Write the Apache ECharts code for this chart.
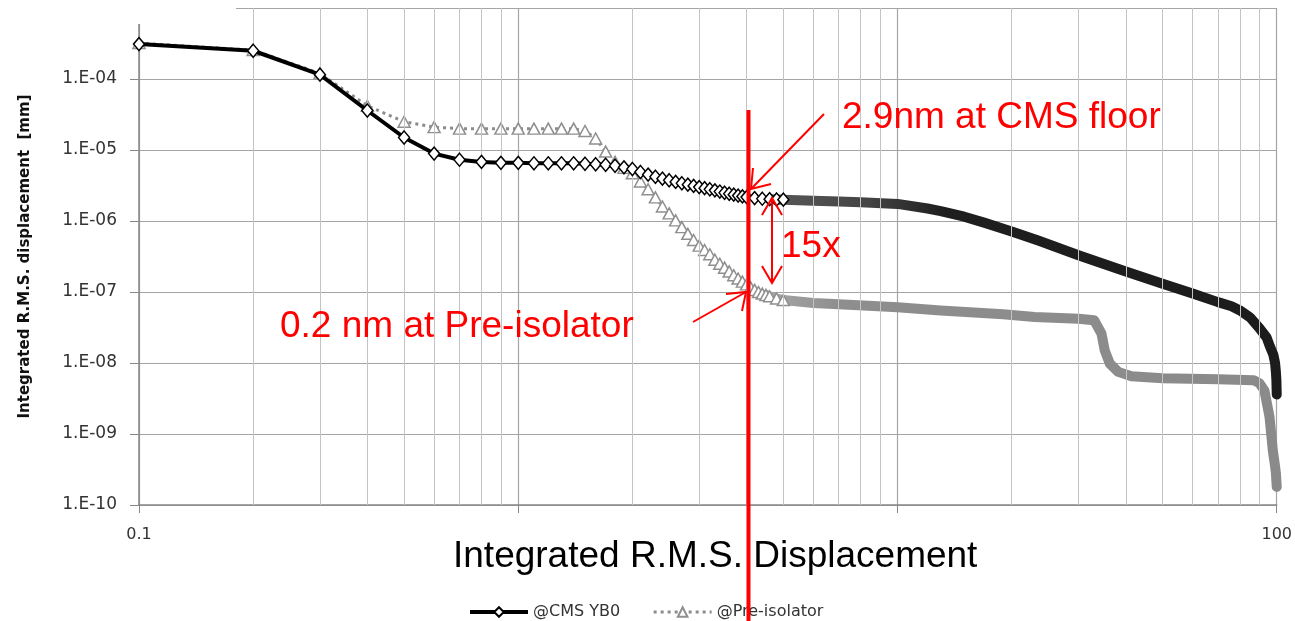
<!DOCTYPE html>
<html>
<head>
<meta charset="UTF-8">
<title>Integrated R.M.S. Displacement</title>
<style>
    html, body { margin: 0; padding: 0; background: #fff; }
    #main { width: 1295px; height: 621px; }
</style>
<script src="https://cdn.jsdelivr.net/npm/echarts@6/dist/echarts.min.js"></script>
</head>
<body>
<div id="main"></div>
<script>
    // frequency [Hz] and integrated displacement [mm]
    var freqCms = [0.1, 0.2, 0.3, 0.4, 0.5, 0.6, 0.7, 0.8, 0.9, 1.0,
        1.1, 1.2, 1.3, 1.4, 1.5, 1.6, 1.7, 1.8, 1.9, 2.0,
        2.1, 2.2, 2.3, 2.4, 2.5, 2.6, 2.7, 2.8, 2.9, 3.0,
        3.1, 3.2, 3.3, 3.4, 3.5, 3.6, 3.7, 3.8, 3.9, 4.0,
        4.2, 4.4, 4.6, 4.8, 5.0,
        6, 7, 8, 10, 12, 13, 15, 17, 20, 23.5,
        30, 40, 50, 60, 70, 76, 80, 85, 90, 94, 96, 98, 99, 99.5, 99.8, 100];
    var cmsYB0 = [3.1e-4, 2.5e-4, 1.15e-4, 3.6e-5, 1.5e-5, 8.9e-6, 7.3e-6, 6.8e-6, 6.6e-6, 6.6e-6,
        6.5e-6, 6.5e-6, 6.5e-6, 6.5e-6, 6.4e-6, 6.3e-6, 6.2e-6, 6.0e-6, 5.7e-6, 5.4e-6,
        4.9e-6, 4.5e-6, 4.2e-6, 3.95e-6, 3.75e-6, 3.55e-6, 3.4e-6, 3.25e-6, 3.12e-6, 3.0e-6,
        2.9e-6, 2.8e-6, 2.7e-6, 2.6e-6, 2.5e-6, 2.42e-6, 2.35e-6, 2.28e-6, 2.22e-6, 2.17e-6,
        2.1e-6, 2.06e-6, 2.03e-6, 2.01e-6, 2.0e-6,
        1.93e-6, 1.88e-6, 1.83e-6, 1.74e-6, 1.5e-6, 1.38e-6, 1.15e-6, 9.4e-7, 7.1e-7, 5.3e-7,
        3.3e-7, 1.95e-7, 1.31e-7, 9.5e-8, 7.2e-8, 6.3e-8, 5.5e-8, 4.4e-8, 3.1e-8, 2.3e-8,
        1.7e-8, 1.3e-8, 1.0e-8, 7.4e-9, 5.7e-9, 3.6e-9];

    var freqPre = [0.1, 0.2, 0.3, 0.4, 0.5, 0.6, 0.7, 0.8, 0.9, 1.0,
        1.1, 1.2, 1.3, 1.4, 1.5, 1.6, 1.7, 1.8, 1.9, 2.0,
        2.1, 2.2, 2.3, 2.4, 2.5, 2.6, 2.7, 2.8, 2.9, 3.0,
        3.1, 3.2, 3.3, 3.4, 3.5, 3.6, 3.7, 3.8, 3.9, 4.0,
        4.1, 4.2, 4.3, 4.4, 4.5, 4.6, 4.8, 5.0,
        6, 7, 10, 13, 19, 23, 30, 33, 34.5, 35.2, 36.3, 38.2, 41.4,
        50, 70, 87, 90, 92.8, 95.7, 97.6, 99, 99.5, 100];
    var preIso = [3.2e-4, 2.55e-4, 1.2e-4, 4.2e-5, 2.5e-5, 2.1e-5, 2.0e-5, 2.0e-5, 2.0e-5, 2.0e-5,
        2.0e-5, 2.0e-5, 2.0e-5, 2.0e-5, 1.85e-5, 1.45e-5, 9.5e-6, 6.8e-6, 5.6e-6, 4.7e-6,
        3.6e-6, 2.8e-6, 2.15e-6, 1.6e-6, 1.28e-6, 1.02e-6, 8.2e-7, 6.6e-7, 5.4e-7, 4.5e-7,
        3.9e-7, 3.4e-7, 2.85e-7, 2.5e-7, 2.2e-7, 1.95e-7, 1.72e-7, 1.55e-7, 1.4e-7, 1.28e-7,
        1.16e-7, 1.07e-7, 1.0e-7, 9.5e-8, 9.1e-8, 8.7e-8, 8.1e-8, 7.7e-8,
        7.0e-8, 6.7e-8, 6.1e-8, 5.5e-8, 4.85e-8, 4.45e-8, 4.2e-8, 4.0e-8, 2.6e-8, 1.5e-8, 9.8e-9, 7.5e-9, 6.5e-9,
        6.1e-9, 5.9e-9, 5.7e-9, 5.2e-9, 4.1e-9, 1.75e-9, 6.0e-10, 3.5e-10, 2.8e-10, 1.8e-10];

    // minor vertical grid lines (2..9 in every decade)
    var minorX = [0.2, 0.3, 0.4, 0.5, 0.6, 0.7, 0.8, 0.9,
        2, 3, 4, 5, 6, 7, 8, 9,
        20, 30, 40, 50, 60, 70, 80, 90];

    var markerLimit = 5;   // past this the excel markers merge into a solid band
    var bandFrom = 4.5;

    var font = 'DejaVu Sans';
    var red = '#ff0000';

    // points with markers (low frequencies) / points of the dense band
    function markerPoints(fs, vs) {
        var out = [];
        fs.forEach(function (f, i) {
            if (f <= markerLimit) out.push([f, vs[i]]);
        });
        return out;
    }
    function bandPoints(fs, vs) {
        var out = [];
        fs.forEach(function (f, i) {
            if (f >= bandFrom) out.push([f, vs[i]]);
        });
        return out;
    }
    function expLabel(v) {
        var e = Math.round(Math.log10(v));
        if (e > -4) return '';
        var n = -e;
        return '1.E-' + (n < 10 ? '0' + n : n);
    }

    var chart = echarts.init(document.getElementById('main'));

    var option = {
        animation: false,
        grid: { left: 139, right: 17, top: 8, bottom: 116 },
        legend: {
            data: [
                { name: '@CMS YB0', lineStyle: { width: 4, color: '#000' } },
                { name: '@Pre-isolator', lineStyle: { width: 3, color: '#8c8c8c', type: [3, 4] } }
            ],
            left: 463,
            top: 599,
            itemWidth: 58,
            itemHeight: 12,
            itemGap: 32,
            textStyle: { fontFamily: font, fontSize: 16, color: '#333' }
        },
        xAxis: {
            type: 'log',
            logBase: 10,
            min: 0.1,
            max: 100,
            interval: 1,
            axisLine: { show: true, lineStyle: { color: '#888', width: 1.5 } },
            axisTick: { show: true, length: 8, lineStyle: { color: '#888' } },
            axisLabel: {
                fontFamily: font, fontSize: 16, color: '#333', margin: 22,
                showMinLabel: true, showMaxLabel: true,
                formatter: function (v) {
                    if (Math.abs(v - 0.1) < 1e-6) return '0.1';
                    if (Math.abs(v - 100) < 1e-6) return '100';
                    return '';
                }
            },
            splitLine: { show: true, lineStyle: { color: '#a5a5a5', width: 1.2 } }
        },
        yAxis: {
            type: 'log',
            logBase: 10,
            min: 1e-10,
            max: 1e-3,
            interval: 1,
            name: 'Integrated R.M.S. displacement  [mm]',
            nameLocation: 'middle',
            nameGap: 106,
            nameTextStyle: { fontFamily: font, fontWeight: 'bold', fontSize: 15, color: '#111' },
            axisLine: { show: true, lineStyle: { color: '#888', width: 1.5 } },
            axisTick: { show: true, length: 9, lineStyle: { color: '#888' } },
            axisLabel: { fontFamily: font, fontSize: 17, color: '#333', margin: 22, formatter: expLabel },
            splitLine: { show: true, lineStyle: { color: '#a5a5a5', width: 1.2 } }
        },
        series: [
            {
                name: 'gridMinor',
                type: 'line',
                data: [],
                silent: true,
                z: 1,
                markLine: {
                    silent: true,
                    symbol: 'none',
                    label: { show: false },
                    lineStyle: { color: '#c4c4c4', width: 1, type: 'solid' },
                    data: minorX.map(function (v) { return { xAxis: v }; })
                }
            },
            {
                name: 'preBand',
                type: 'line',
                data: bandPoints(freqPre, preIso),
                symbol: 'none',
                silent: true,
                z: 2,
                lineStyle: {
                    width: 10, cap: 'round', join: 'round',
                    color: new echarts.graphic.LinearGradient(0, 0, 1, 0, [
                        { offset: 0, color: '#a8a8a8' },
                        { offset: 0.15, color: '#8e8e8e' },
                        { offset: 1, color: '#8a8a8a' }
                    ])
                }
            },
            {
                name: 'cmsBand',
                type: 'line',
                data: bandPoints(freqCms, cmsYB0),
                symbol: 'none',
                silent: true,
                z: 3,
                lineStyle: {
                    width: 10, cap: 'round', join: 'round',
                    color: new echarts.graphic.LinearGradient(0, 0, 1, 0, [
                        { offset: 0, color: '#5a5a5a' },
                        { offset: 0.2, color: '#444' },
                        { offset: 0.35, color: '#1e1e1e' },
                        { offset: 1, color: '#1c1c1c' }
                    ])
                }
            },
            {
                name: '@Pre-isolator',
                type: 'line',
                data: markerPoints(freqPre, preIso),
                symbol: 'triangle',
                symbolSize: [12, 11],
                showAllSymbol: true,
                z: 4,
                itemStyle: { color: '#fff', borderColor: '#8f8f8f', borderWidth: 1.5 },
                lineStyle: { color: '#8c8c8c', width: 3, type: [3, 4] }
            },
            {
                name: '@CMS YB0',
                type: 'line',
                data: markerPoints(freqCms, cmsYB0),
                symbol: 'diamond',
                symbolSize: [11, 13],
                showAllSymbol: true,
                z: 5,
                itemStyle: { color: '#fff', borderColor: '#000', borderWidth: 1.5 },
                lineStyle: { color: '#000', width: 4 }
            }
        ],
        graphic: [
            // the original picture is cropped at the top left corner
            { type: 'rect', z: 100, shape: { x: 0, y: 0, width: 236, height: 24 }, style: { fill: '#fff' } },
            {
                type: 'text', z: 100, x: 453, y: 557,
                style: { text: 'Integrated R.M.S. Displacement', font: '37px "Liberation Sans"', fill: '#000', verticalAlign: 'middle' }
            },
            // red annotations
            { type: 'line', z: 110, shape: { x1: 748.5, y1: 110, x2: 748.5, y2: 621 }, style: { stroke: red, lineWidth: 4 } },
            {
                type: 'text', z: 110, x: 842, y: 118,
                style: { text: '2.9nm at CMS floor', font: '37px "Liberation Sans"', fill: red, verticalAlign: 'middle' }
            },
            { type: 'line', z: 110, shape: { x1: 824, y1: 114, x2: 751, y2: 189 }, style: { stroke: red, lineWidth: 2 } },
            { type: 'polyline', z: 110, shape: { points: [[753, 168], [751, 189], [771, 184]] }, style: { stroke: red, lineWidth: 2, fill: null } },
            {
                type: 'text', z: 110, x: 781, y: 247,
                style: { text: '15x', font: '37px "Liberation Sans"', fill: red, verticalAlign: 'middle' }
            },
            { type: 'line', z: 110, shape: { x1: 772, y1: 198, x2: 772, y2: 283 }, style: { stroke: red, lineWidth: 2 } },
            { type: 'polyline', z: 110, shape: { points: [[762, 215], [772, 198], [782, 215]] }, style: { stroke: red, lineWidth: 2, fill: null } },
            { type: 'polyline', z: 110, shape: { points: [[762, 266], [772, 283], [782, 266]] }, style: { stroke: red, lineWidth: 2, fill: null } },
            {
                type: 'text', z: 110, x: 280, y: 327,
                style: { text: '0.2 nm at Pre-isolator', font: '37px "Liberation Sans"', fill: red, verticalAlign: 'middle' }
            },
            { type: 'line', z: 110, shape: { x1: 693, y1: 322, x2: 746, y2: 292 }, style: { stroke: red, lineWidth: 2 } },
            { type: 'polyline', z: 110, shape: { points: [[726, 294], [746, 292], [742, 311]] }, style: { stroke: red, lineWidth: 2, fill: null } }
        ]
    };

    chart.setOption(option);
</script>
</body>
</html>
